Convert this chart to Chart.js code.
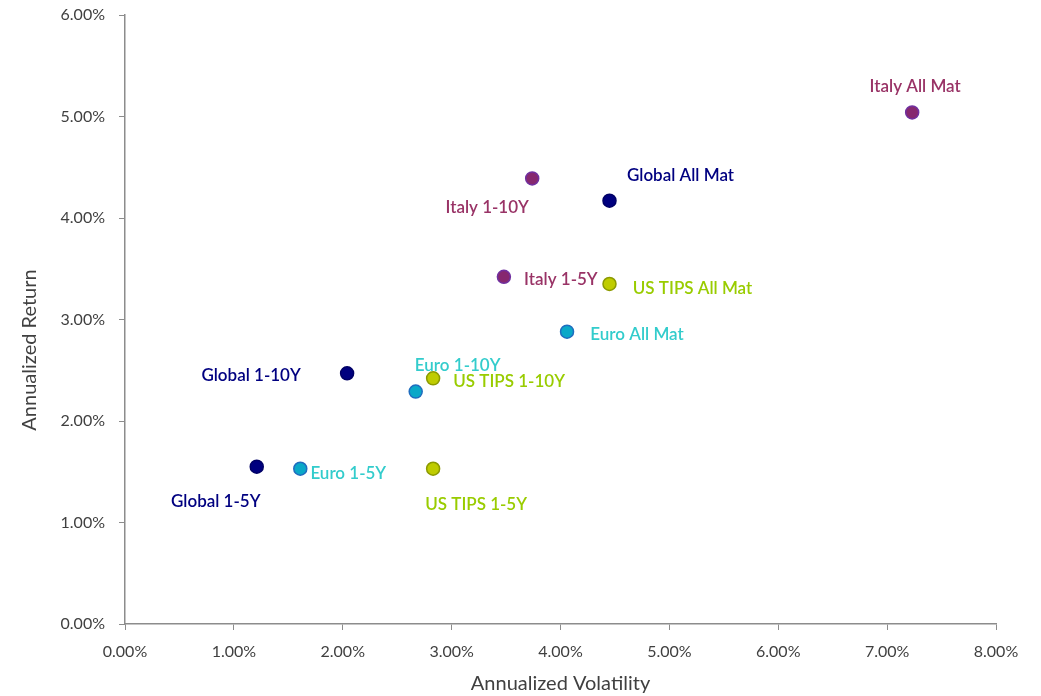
<!DOCTYPE html>
<html>
<head>
<meta charset="utf-8">
<script src="https://cdn.jsdelivr.net/npm/chart.js@4/dist/chart.umd.min.js"></script>
<style>
  html, body { margin: 0; padding: 0; background: #fff; }
  #wrap { width: 1041px; height: 696px; }
</style>
</head>
<body>
<div id="wrap"><canvas id="riskChart" width="1041" height="696"></canvas></div>
<script>
// Annualized volatility / return (%) per index family
const globalNames = ["Global 1-5Y", "Global 1-10Y", "Global All Mat"];
const globalVol = [1.21, 2.04, 4.45];
const globalRet = [1.55, 2.47, 4.17];

const euroNames = ["Euro 1-5Y", "Euro 1-10Y", "Euro All Mat"];
const euroVol = [1.61, 2.67, 4.06];
const euroRet = [1.53, 2.29, 2.88];

const italyNames = ["Italy 1-5Y", "Italy 1-10Y", "Italy All Mat"];
const italyVol = [3.48, 3.74, 7.23];
const italyRet = [3.42, 4.39, 5.04];

const tipsNames = ["US TIPS 1-5Y", "US TIPS 1-10Y", "US TIPS All Mat"];
const tipsVol = [2.83, 2.83, 4.45];
const tipsRet = [1.53, 2.42, 3.35];

const xTicks = [0, 1, 2, 3, 4, 5, 6, 7, 8];
const yTicks = [0, 1, 2, 3, 4, 5, 6];

// label placement relative to each point (px): [dx, dy]
const globalOffsets = [[-41, 35], [-96, 2], [71, -25]];
const euroOffsets = [[48, 5], [42, -26], [70, 3]];
const italyOffsets = [[57, 3], [-45, 29], [3, -26]];
const tipsOffsets = [[43, 36], [76, 3], [83, 5]];

const FONT = "Lato, 'Open Sans', sans-serif";

function pts(vol, ret) {
    return vol.map((v, i) => ({ x: v, y: ret[i] }));
}

function series(label, vol, ret, names, offsets, fill, border, textColor) {
    return {
        label: label,
        data: pts(vol, ret),
        names: names,
        offsets: offsets,
        textColor: textColor,
        backgroundColor: fill,
        borderColor: border,
        borderWidth: 1.5,
        pointRadius: 6.5,
        pointHoverRadius: 6.5
    };
}

// point labels drawn beside each marker
const pointLabels = {
    id: 'pointLabels',
    afterDatasetsDraw(chart) {
        const ctx = chart.ctx;
        ctx.save();
        ctx.font = "600 17px " + FONT;
        ctx.textAlign = 'center';
        ctx.textBaseline = 'middle';
        chart.data.datasets.forEach((ds, di) => {
            const meta = chart.getDatasetMeta(di);
            meta.data.forEach((el, i) => {
                const off = ds.offsets[i];
                ctx.fillStyle = ds.textColor;
                ctx.fillText(ds.names[i], el.x + off[0], el.y + off[1]);
            });
        });
        ctx.restore();
    }
};

// axis titles
const axisTitles = {
    id: 'axisTitles',
    afterDraw(chart) {
        const ctx = chart.ctx;
        const a = chart.chartArea;
        ctx.save();
        ctx.font = "20px " + FONT;
        ctx.fillStyle = '#404040';
        ctx.textAlign = 'center';
        ctx.textBaseline = 'middle';
        ctx.fillText('Annualized Volatility', (a.left + a.right) / 2, 684);
        ctx.translate(30, 350);
        ctx.rotate(-Math.PI / 2);
        ctx.fillText('Annualized Return', 0, 0);
        ctx.restore();
    }
};

new Chart(document.getElementById('riskChart'), {
    type: 'scatter',
    data: {
        datasets: [
            series('Global', globalVol, globalRet, globalNames, globalOffsets, '#00007f', '#000066', '#000080'),
            series('Euro', euroVol, euroRet, euroNames, euroOffsets, '#0aa8c8', '#1f6dbf', '#33cccc'),
            series('Italy', italyVol, italyRet, italyNames, italyOffsets, '#86286f', '#7030a0', '#993366'),
            series('US TIPS', tipsVol, tipsRet, tipsNames, tipsOffsets, '#bfcc00', '#8c9a00', '#99cc00')
        ]
    },
    options: {
        responsive: false,
        animation: false,
        layout: { padding: { top: 15, right: 45, left: 0, bottom: 0 } },
        plugins: {
            legend: { display: false },
            tooltip: { enabled: false }
        },
        scales: {
            x: {
                type: 'linear',
                min: 0,
                max: 8,
                afterBuildTicks: (s) => { s.ticks = xTicks.map(v => ({ value: v })); },
                afterFit: (s) => { s.height = 72; s.paddingLeft = 0; s.paddingRight = 0; },
                grid: { drawOnChartArea: false, tickLength: 6, color: '#8c8c8c' },
                border: { color: '#8c8c8c', width: 1.5 },
                ticks: {
                    padding: 12,
                    color: '#404040',
                    font: { family: FONT, size: 16 },
                    callback: (v) => v.toFixed(2) + '%'
                }
            },
            y: {
                type: 'linear',
                min: 0,
                max: 6,
                afterBuildTicks: (s) => { s.ticks = yTicks.map(v => ({ value: v })); },
                afterFit: (s) => { s.width = 125; s.paddingTop = 0; s.paddingBottom = 0; },
                grid: { drawOnChartArea: false, tickLength: 6, color: '#8c8c8c' },
                border: { color: '#8c8c8c', width: 1.5 },
                ticks: {
                    padding: 14,
                    color: '#404040',
                    font: { family: FONT, size: 16 },
                    callback: (v) => v.toFixed(2) + '%'
                }
            }
        }
    },
    plugins: [pointLabels, axisTitles]
});
</script>
</body>
</html>
